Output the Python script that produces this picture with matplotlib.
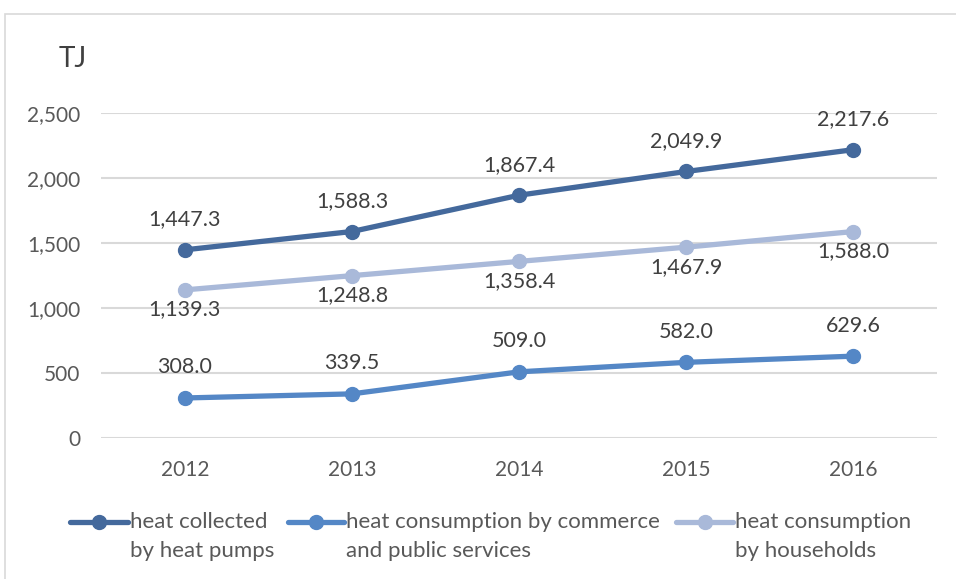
import matplotlib.pyplot as plt
from matplotlib.lines import Line2D
from matplotlib.patches import Rectangle
from matplotlib.ticker import FuncFormatter

plt.rcParams['font.family'] = ['Lato', 'DejaVu Sans']

years = ['2012', '2013', '2014', '2015', '2016']
heat_pumps = [1447.3, 1588.3, 1867.4, 2049.9, 2217.6]
commerce = [308.0, 339.5, 509.0, 582.0, 629.6]
households = [1139.3, 1248.8, 1358.4, 1467.9, 1588.0]

series = [
    ('heat collected\nby heat pumps', heat_pumps, '#44699C', 'above'),
    ('heat consumption by commerce\nand public services', commerce, '#5487C6', 'above'),
    ('heat consumption\nby households', households, '#A9B9D9', 'below'),
]

text_col = '#404040'
tick_col = '#595959'
W, H = 956, 579

fig = plt.figure(figsize=(9.56, 5.79), dpi=100)
ax = fig.add_axes([0.106, 0.2435, 0.874, 0.5614])

x = list(range(len(years)))
for label, vals, col, pos in series:
    ax.plot(x, vals, color=col, lw=3.8, marker='o', markersize=10,
            solid_capstyle='round', label=label, zorder=3)
    for xi, v in zip(x, vals):
        dy = 22 if pos == 'above' else -14
        ax.annotate(f'{v:,.1f}', (xi, v), xytext=(0, dy), textcoords='offset points',
                    ha='center', va='center', fontsize=15.5, color=text_col, zorder=4)

ax.set_xlim(-0.5, len(years) - 0.5)
ax.set_ylim(0, 2500)
ax.set_yticks([0, 500, 1000, 1500, 2000, 2500])
ax.yaxis.set_major_formatter(FuncFormatter(lambda v, p: f'{v:,.0f}'))
ax.set_xticks(x)
ax.set_xticklabels(years)
ax.grid(axis='y', color='#D9D9D9', lw=1.5)
ax.set_axisbelow(True)
for s in ax.spines.values():
    s.set_visible(False)
ax.tick_params(length=0, labelsize=15, labelcolor=tick_col)
ax.tick_params(axis='x', pad=16)
ax.tick_params(axis='y', pad=15)

fig.text(0.061, 0.898, 'TJ', fontsize=20, color=text_col, ha='left', va='center')

# legend: key on the first line, two-line label beside it
key_x = [(70, 128), (288, 344), (676, 733)]
row1, row2 = 522, 551
for (label, vals, col, pos), (x0, x1) in zip(series, key_x):
    fig.add_artist(Line2D([x0 / W, x1 / W], [1 - row1 / H] * 2, color=col, lw=3.8,
                          solid_capstyle='round', transform=fig.transFigure))
    fig.add_artist(Line2D([(x0 + x1) / 2 / W], [1 - row1 / H], color=col, marker='o',
                          markersize=10, transform=fig.transFigure))
    first, second = label.split('\n')
    fig.text((x1 + 2) / W, 1 - row1 / H, first, fontsize=16, color=tick_col,
             ha='left', va='center')
    fig.text((x1 + 2) / W, 1 - row2 / H, second, fontsize=16, color=tick_col,
             ha='left', va='center')

# light outline round the chart area
fig.patches.append(Rectangle((0.005, -0.01), 1.0, 0.986, transform=fig.transFigure,
                             fill=False, edgecolor='#D9D9D9', lw=1.2))

fig.savefig('out.png', dpi=100)
